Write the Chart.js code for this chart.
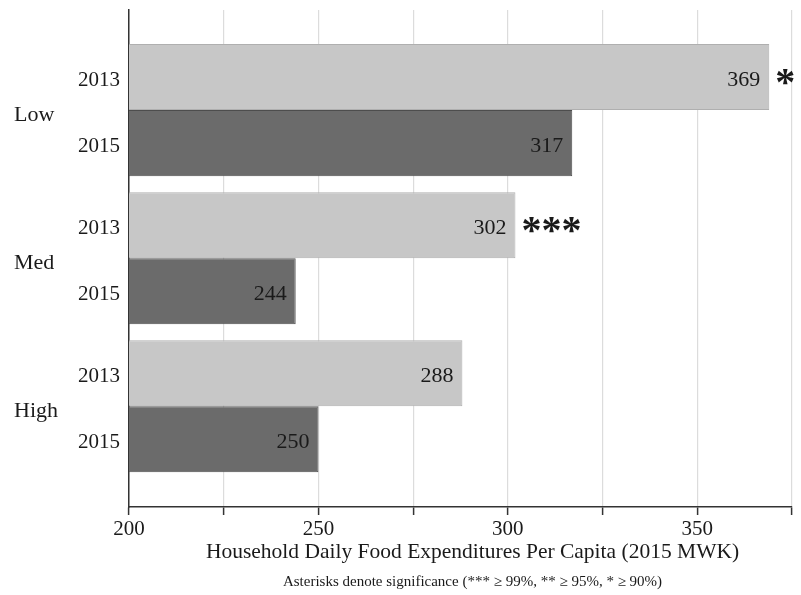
<!DOCTYPE html>
<html>
<head>
<meta charset="utf-8">
<script src="https://cdn.jsdelivr.net/npm/chart.js@4.4.1/dist/chart.umd.min.js"></script>
<style>
  html, body { margin: 0; padding: 0; background: #fff; }
</style>
</head>
<body>
<canvas id="foodChart" width="801" height="595"></canvas>
<script>
// Household daily food expenditure by income group, 2013 vs 2015
const groups = ['Low', 'Med', 'High'];
const years = ['2013', '2015'];
const spend2013 = [369, 302, 288];
const spend2015 = [317, 244, 250];
// significance markers printed after the 2013 bar
const significance = ['*', '***', ''];
const xTickValues = [200, 250, 300, 350];

const xTitle = 'Household Daily Food Expenditures Per Capita (2015 MWK)';
const footNote = 'Asterisks denote significance (*** \u2265 99%, ** \u2265 95%, * \u2265 90%)';

const SERIF = '"Liberation Serif", "Times New Roman", serif';
const INK = '#1a1a1a';

const toPoints = values => values.map((v, i) => ({ x: v, y: i }));

// Draws year labels, group labels, value labels, asterisks and the captions
const barLabels = {
    id: 'barLabels',
    afterDatasetsDraw(chart) {
        const ctx = chart.ctx;
        const area = chart.chartArea;
        const metas = [chart.getDatasetMeta(0), chart.getDatasetMeta(1)];

        ctx.save();
        ctx.fillStyle = INK;
        ctx.textBaseline = 'middle';

        metas.forEach((meta, d) => {
            const values = chart.data.datasets[d].data;
            meta.data.forEach((bar, i) => {
                // year label on the axis
                ctx.font = '21px ' + SERIF;
                ctx.textAlign = 'right';
                ctx.fillText(years[d], area.left - 9, bar.y + 3);

                // value inside the bar end
                ctx.font = '22px ' + SERIF;
                ctx.fillText(String(values[i].x), bar.x - 9, bar.y + 3);

                if (d === 0 && significance[i]) {
                    ctx.font = 'bold 40px ' + SERIF;
                    ctx.textAlign = 'left';
                    ctx.textBaseline = 'alphabetic';
                    const m = ctx.measureText(significance[i]);
                    const h = m.actualBoundingBoxAscent - m.actualBoundingBoxDescent;
                    ctx.fillText(significance[i], bar.x + 6, bar.y + h / 2);
                    ctx.textBaseline = 'middle';
                }
            });
        });

        // group names centred on each pair of bars
        ctx.font = '22px ' + SERIF;
        ctx.textAlign = 'left';
        groups.forEach((g, i) => {
            const mid = (metas[0].data[i].y + metas[1].data[i].y) / 2;
            ctx.fillText(g, 14, mid + 5);
        });

        // axis title and footnote under the x axis
        const cx = (area.left + area.right) / 2 + 12;
        ctx.textAlign = 'center';
        ctx.font = '21.5px ' + SERIF;
        ctx.fillText(xTitle, cx, area.bottom + 45);
        ctx.font = '15px ' + SERIF;
        ctx.fillText(footNote, cx, area.bottom + 75);
        ctx.restore();
    }
};

const ctx = document.getElementById('foodChart').getContext('2d');
new Chart(ctx, {
    type: 'bar',
    data: {
        datasets: [
            {
                label: years[0],
                data: toPoints(spend2013),
                backgroundColor: '#c7c7c7',
                borderColor: '#afafaf',
                borderWidth: 1,
                borderSkipped: false
            },
            {
                label: years[1],
                data: toPoints(spend2015),
                backgroundColor: '#6b6b6b',
                borderColor: '#4d4d4d',
                borderWidth: 1,
                borderSkipped: false
            }
        ]
    },
    options: {
        indexAxis: 'y',
        responsive: false,
        animation: false,
        categoryPercentage: 0.892,
        barPercentage: 1,
        layout: { padding: { left: 0, right: 9, top: 10, bottom: 0 } },
        plugins: {
            legend: { display: false },
            tooltip: { enabled: false }
        },
        scales: {
            x: {
                type: 'linear',
                min: 200,
                max: 375,
                afterBuildTicks: scale => {
                    const ticks = [];
                    for (let v = scale.min; v <= scale.max; v += 25) ticks.push({ value: v });
                    scale.ticks = ticks;
                },
                afterFit: scale => { scale.height = 88; },
                ticks: {
                    color: INK,
                    font: { family: SERIF, size: 21 },
                    padding: 2,
                    maxRotation: 0,
                    autoSkip: false,
                    callback: v => xTickValues.includes(v) ? String(v) : ''
                },
                grid: {
                    color: '#dcdcdc',
                    lineWidth: 1.2,
                    tickLength: 8,
                    tickColor: '#333',
                    tickWidth: 1.5
                },
                border: { color: '#333', width: 1.5 }
            },
            y: {
                type: 'linear',
                reverse: true,
                offset: false,
                min: -0.676,
                max: 2.68,
                // one tick per group keeps the bar ruler at the group spacing
                afterBuildTicks: scale => {
                    scale.ticks = groups.map((g, i) => ({ value: i }));
                },
                afterFit: scale => { scale.width = 129; },
                ticks: { display: false },
                grid: { display: false, drawTicks: false, offset: false },
                border: { color: '#333', width: 1.5 }
            }
        }
    },
    plugins: [barLabels]
});
</script>
</body>
</html>
